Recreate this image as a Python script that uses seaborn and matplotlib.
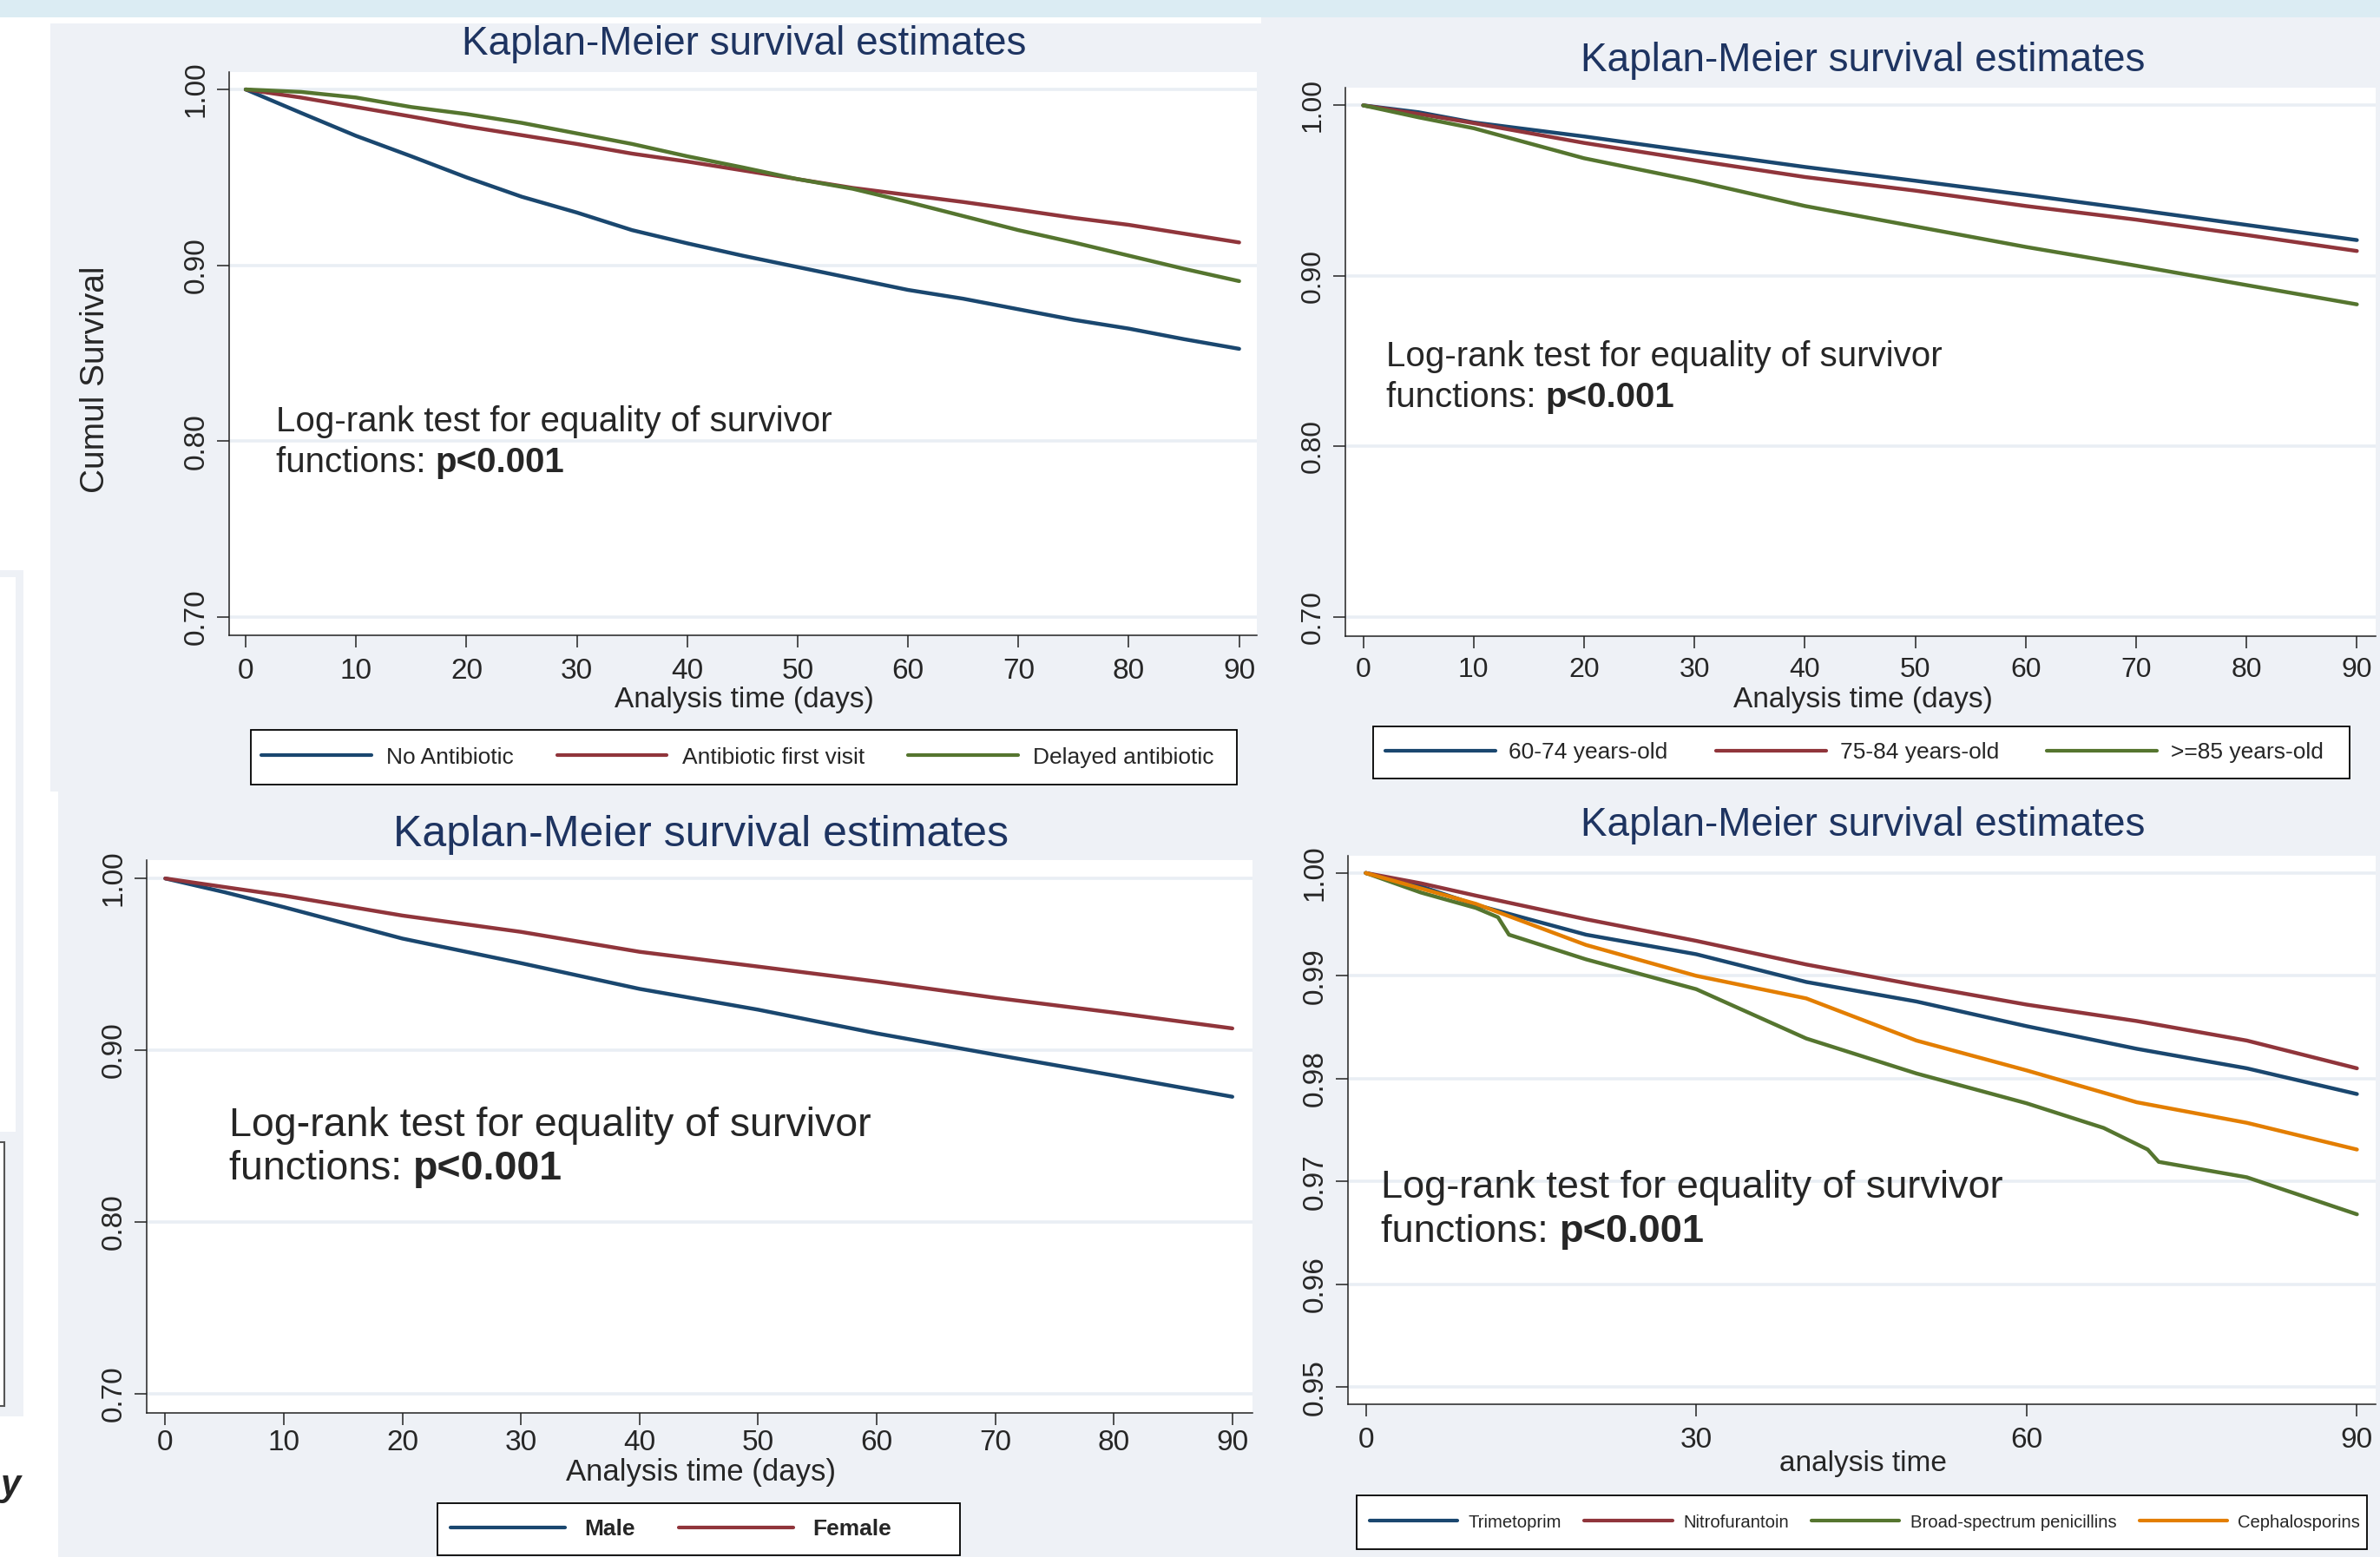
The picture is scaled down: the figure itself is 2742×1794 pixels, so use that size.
import matplotlib
matplotlib.use("Agg")
import matplotlib.pyplot as plt
from matplotlib.patches import Rectangle
import seaborn as sns
import pandas as pd

# ---- data ----
# panel 1: antibiotic timing
p1_days = [0, 5, 10, 15, 20, 25, 30, 35, 40, 45, 50, 55, 60, 65, 70, 75, 80, 85, 90]
p1_no_abx = [1.0, 0.9867, 0.9736, 0.962, 0.950, 0.939, 0.930, 0.920, 0.9125, 0.9055,
             0.899, 0.8925, 0.886, 0.881, 0.875, 0.869, 0.864, 0.858, 0.8525]
p1_first = [1.0, 0.9954, 0.990, 0.9846, 0.979, 0.974, 0.969, 0.9635, 0.959, 0.954,
            0.949, 0.944, 0.940, 0.936, 0.9316, 0.927, 0.923, 0.918, 0.913]
p1_delayed = [1.0, 0.9986, 0.9954, 0.990, 0.986, 0.981, 0.975, 0.969, 0.962, 0.9557,
              0.949, 0.9435, 0.936, 0.928, 0.920, 0.913, 0.9055, 0.898, 0.891]
p1_labels = ["No Antibiotic", "Antibiotic first visit", "Delayed antibiotic"]

# panel 2: age groups
p2_days = [0, 5, 10, 20, 30, 40, 50, 60, 70, 80, 90]
p2_60_74 = [1.0, 0.9960, 0.990, 0.9818, 0.9728, 0.9639, 0.9558, 0.9475, 0.9388, 0.9299, 0.921]
p2_75_84 = [1.0, 0.9950, 0.9896, 0.978, 0.9678, 0.958, 0.950, 0.941, 0.933, 0.924, 0.9146]
p2_85 = [1.0, 0.9930, 0.9866, 0.969, 0.9558, 0.941, 0.929, 0.917, 0.906, 0.8946, 0.8833]
p2_labels = ["60-74 years-old", "75-84 years-old", ">=85 years-old"]

# panel 3: sex
p3_days = [0, 5, 10, 20, 30, 40, 50, 60, 70, 80, 90]
p3_male = [1.0, 0.992, 0.9833, 0.965, 0.9507, 0.9357, 0.9236, 0.9098, 0.8974, 0.8853, 0.8729]
p3_female = [1.0, 0.995, 0.990, 0.9784, 0.9689, 0.9573, 0.9487, 0.940, 0.9305, 0.9219, 0.9127]
p3_labels = ["Male", "Female"]

# panel 4: antibiotic class
p4_days = [0, 5, 10, 20, 30, 40, 50, 60, 70, 80, 90]
p4_trim = [1.0, 0.9987, 0.9969, 0.9940, 0.9921, 0.9894, 0.9875, 0.9851, 0.9829, 0.9810, 0.9785]
p4_nitro = [1.0, 0.9990, 0.9978, 0.9955, 0.9934, 0.9911, 0.9891, 0.9872, 0.9856, 0.9837, 0.981]
p4_pen_days = [0, 5, 10, 12, 13, 20, 30, 40, 50, 60, 67, 71, 72, 80, 90]
p4_pen = [1.0, 0.9981, 0.9966, 0.9957, 0.9940, 0.9916, 0.9887, 0.9839, 0.9805, 0.9776,
          0.9752, 0.9731, 0.9719, 0.9704, 0.9668]
p4_ceph = [1.0, 0.9985, 0.997, 0.993, 0.990, 0.9878, 0.9837, 0.9808, 0.9777, 0.9757, 0.9731]
p4_labels = ["Trimetoprim", "Nitrofurantoin", "Broad-spectrum penicillins", "Cephalosporins"]

NAVY, MAROON, GREEN, ORANGE = "#1a476f", "#90353b", "#55752f", "#e37e00"
TITLE_COL = "#1e3461"
BG = "#eef1f6"
GRID = "#e9eef4"

W, H = 2742, 1794

sns.set_style("ticks")
plt.rcParams["font.family"] = ["Liberation Sans", "DejaVu Sans"]

fig = plt.figure(figsize=(W / 100, H / 100), dpi=100)
fig.patch.set_facecolor("white")


def fy(y):
    return 1 - y / H


def rect(x0, y0, x1, y1, fc, ec="none", lw=0, z=-5):
    fig.add_artist(Rectangle((x0 / W, fy(y1)), (x1 - x0) / W, (y1 - y0) / H,
                             transform=fig.transFigure, facecolor=fc, edgecolor=ec,
                             linewidth=lw, zorder=z))


# slide backgrounds
rect(0, 0, W, 20, "#dbecf3")
rect(58, 27, 1453, 912, BG)
rect(67, 912, 1453, H, BG)
rect(1453, 20, W, H, BG)
# bits of neighbouring slide content on the far left
rect(-5, 657, 27, 1632, BG)
rect(-5, 665, 18, 1304, "white")
rect(-5, 1316, 5, 1620, "white", ec="#555555", lw=1.5)
fig.text(1 / W, fy(1712), "y", fontsize=30, fontweight="bold", style="italic",
         ha="left", va="center")


def make_frame(days_list, values, labels):
    rows = []
    for d, v, lab in zip(days_list, values, labels):
        rows.append(pd.DataFrame({"days": d, "surv": v, "group": lab}))
    return pd.concat(rows, ignore_index=True)


def km_panel(box, df, colors, xlim, ylim, yticks, xticks, tick_fs=24, xpad=9):
    left, top, right, bottom = box
    ax = fig.add_axes([left / W, fy(bottom), (right - left) / W, (bottom - top) / H])
    ax.set_facecolor("white")
    sns.lineplot(data=df, x="days", y="surv", hue="group", palette=colors,
                 estimator=None, sort=False, linewidth=3.2, ax=ax, legend=True)
    ax.set_xlim(*xlim)
    ax.set_ylim(*ylim)
    ax.set_yticks(yticks)
    ax.set_yticklabels([f"{t:.2f}" for t in yticks], rotation=90, va="center")
    ax.set_xticks(xticks)
    ax.set_xticklabels([str(t) for t in xticks])
    ax.tick_params(axis="both", direction="out", length=10, width=1.1, color="#222222",
                   labelsize=tick_fs)
    ax.tick_params(axis="y", pad=6)
    ax.tick_params(axis="x", pad=xpad)
    ax.yaxis.grid(True, color=GRID, linewidth=2.6)
    ax.xaxis.grid(False)
    ax.set_axisbelow(True)
    for s in ["top", "right"]:
        ax.spines[s].set_visible(False)
    for s in ["left", "bottom"]:
        ax.spines[s].set_color("#222222")
        ax.spines[s].set_linewidth(1.1)
    ax.set_xlabel("")
    ax.set_ylabel("")
    handles, labs = ax.get_legend_handles_labels()
    ax.get_legend().remove()
    return ax, handles, labs


def logrank_note(ax, x, y1, y2, fs):
    ax.text(x, y1, "Log-rank test for equality of survivor", fontsize=fs, va="center")
    t2 = ax.text(x, y2, "functions: ", fontsize=fs, va="center")
    ax.annotate("p<0.001", xy=(1, 0), xycoords=t2, fontsize=fs, fontweight="bold",
                va="bottom", ha="left")


def legend_box(handles, labels, box, x_start, fs, hl, htp, cs, weight="normal"):
    x0, y0, x1, y1 = box
    rect(x0, y0, x1, y1, "white", ec="black", lw=1.3, z=2)
    for h in handles:
        h.set_linewidth(3.0)
    leg = fig.legend(handles, labels, loc="center left",
                     bbox_to_anchor=(x_start / W, fy((y0 + y1) / 2)),
                     ncol=len(labels), frameon=False, handlelength=hl,
                     handletextpad=htp, columnspacing=cs, borderpad=0,
                     borderaxespad=0, prop={"size": fs, "weight": weight})
    leg.set_zorder(3)
    return leg


def title(cx, cy, fs):
    fig.text(cx / W, fy(cy), "Kaplan-Meier survival estimates", fontsize=fs,
             color=TITLE_COL, ha="center", va="center")


def xlabel(cx, cy, text, fs):
    fig.text(cx / W, fy(cy), text, fontsize=fs, ha="center", va="center")


# ---- panel 1 ----
df1 = make_frame([p1_days] * 3, [p1_no_abx, p1_first, p1_delayed], p1_labels)
ax1, h1, l1 = km_panel((264, 83, 1448, 732), df1, [NAVY, MAROON, GREEN],
                       (-1.5, 91.6), (0.6896, 1.0099), [0.70, 0.80, 0.90, 1.00],
                       list(range(0, 91, 10)))
logrank_note(ax1, 2.75, 0.811, 0.788, 29)
title(857, 51, 33)
xlabel(857, 806, "Analysis time (days)", 24)
fig.text(110 / W, fy(437), "Cumul Survival", rotation=90, fontsize=28,
         ha="center", va="center")
legend_box(h1, l1, (289, 841, 1425, 904), 301, 19, 4.8, 0.65, 1.9)

# ---- panel 2 ----
df2 = make_frame([p2_days] * 3, [p2_60_74, p2_75_84, p2_85], p2_labels)
ax2, h2, l2 = km_panel((1550, 101, 2737, 733), df2, [NAVY, MAROON, GREEN],
                       (-1.62, 91.7), (0.6887, 1.0104), [0.70, 0.80, 0.90, 1.00],
                       list(range(0, 91, 10)), tick_fs=23, xpad=7)
logrank_note(ax2, 2.06, 0.8527, 0.8286, 29)
title(2146, 70, 33)
xlabel(2146, 806, "Analysis time (days)", 24)
legend_box(h2, l2, (1582, 837, 2707, 897), 1596, 19, 4.8, 0.6, 2.1)

# ---- panel 3 ----
df3 = make_frame([p3_days] * 2, [p3_male, p3_female], p3_labels)
ax3, h3, l3 = km_panel((169, 991, 1443, 1628), df3, [NAVY, MAROON],
                       (-1.57, 91.7), (0.6888, 1.0107), [0.70, 0.80, 0.90, 1.00],
                       list(range(0, 91, 10)), tick_fs=24, xpad=4)
logrank_note(ax3, 5.37, 0.856, 0.831, 33.5)
title(808, 962, 36)
xlabel(808, 1696, "Analysis time (days)", 25)
legend_box(h3, l3, (504, 1732, 1106, 1792), 519, 19, 5.0, 0.83, 1.93, weight="bold")

# ---- panel 4 ----
df4 = make_frame([p4_days, p4_days, p4_pen_days, p4_days],
                 [p4_trim, p4_nitro, p4_pen, p4_ceph], p4_labels)
ax4, h4, l4 = km_panel((1553, 986, 2737, 1618), df4, [NAVY, MAROON, GREEN, ORANGE],
                       (-1.62, 91.7), (0.94832, 1.00168),
                       [0.95, 0.96, 0.97, 0.98, 0.99, 1.00], [0, 30, 60, 90])
logrank_note(ax4, 1.38, 0.9694, 0.9651, 32.5)
title(2146, 951, 33)
xlabel(2146, 1686, "analysis time", 24)
legend_box(h4, l4, (1563, 1723, 2727, 1785), 1578, 14.6, 5.0, 0.6, 1.3)

fig.savefig("out.png", dpi=100)
